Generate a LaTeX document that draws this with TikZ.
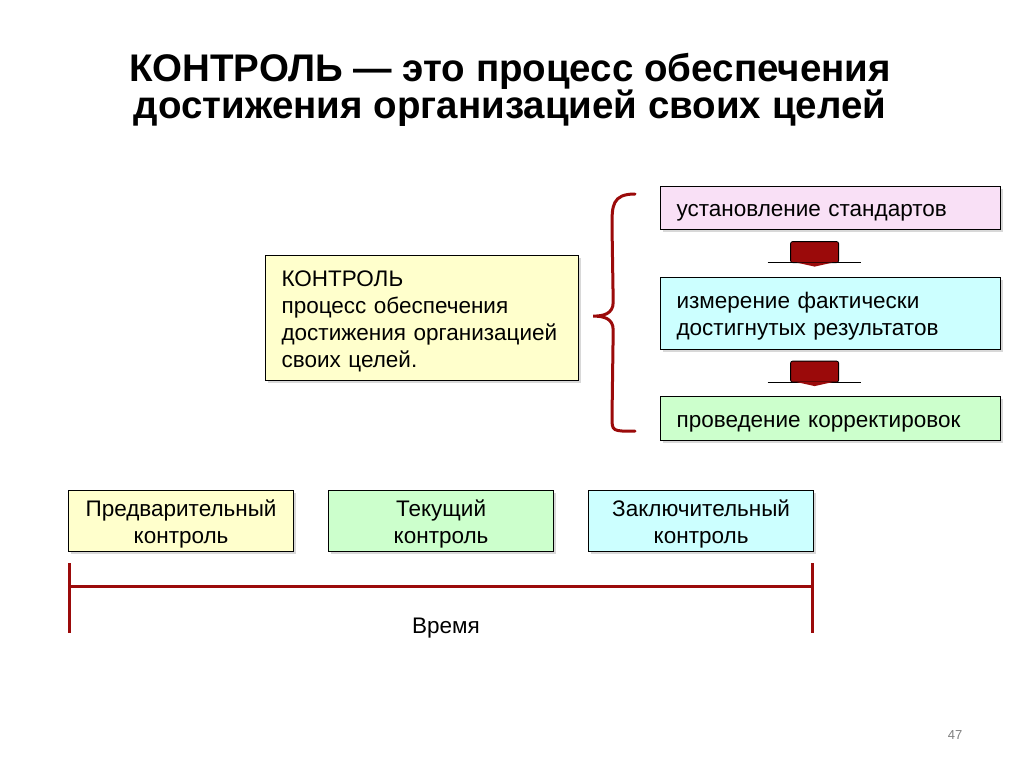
\documentclass[tikz,border=0pt]{standalone}
\usepackage{fontspec}
\setmainfont{Liberation Sans}
\usetikzlibrary{calc,shadows}
\definecolor{ctrlred}{HTML}{9B0A0A}
\definecolor{boxyellow}{HTML}{FFFFCC}
\definecolor{boxpink}{HTML}{F9E0F6}
\definecolor{boxcyan}{HTML}{CCFFFF}
\definecolor{boxgreen}{HTML}{CCFFCC}
\begin{document}
\begin{tikzpicture}[x=1pt,y=-1pt]
\tikzset{
    box/.style={draw=black, line width=1.2pt, inner ysep=0pt, anchor=north west,
        drop shadow={shadow xshift=2pt, shadow yshift=-2pt, opacity=0.3},
        font=\fontsize{22.5}{27}\selectfont, execute at begin node={\rule{0pt}{22pt}}},
    leftbox/.style 2 args={box, fill=#1, align=left, inner xsep=16pt,
        text width=#2, minimum height=44pt},
    timebox/.style={box, fill=#1, align=center, minimum width=225pt,
        minimum height=61pt, text width=219pt, inner xsep=3pt},
    stepper/.style={fill=ctrlred, draw=black, line width=0.8pt, rounded corners=2pt}
}
\useasboundingbox[fill=white] (0,0) rectangle (1024,767);
% title
\node[font=\fontsize{38.5}{37.5}\selectfont\bfseries, align=center] (title) at (510,90)
  {КОНТРОЛЬ — это процесс обеспечения\\достижения организацией своих целей};
% definition
\node[leftbox={boxyellow}{281pt}, minimum height=125pt, inner xsep=16pt] (def) at (265,255)
  {КОНТРОЛЬ\\процесс обеспечения\\достижения организацией\\своих целей.};
% stages
\node[leftbox={boxpink}{308pt}, minimum height=43pt] (std) at (660,186) {установление стандартов};
\node[leftbox={boxcyan}{308pt}, minimum height=72pt] (meas) at (660,277)
  {измерение фактически\\достигнутых результатов};
\node[leftbox={boxgreen}{308pt}, minimum height=44pt] (corr) at (660,396) {проведение корректировок};
\foreach \a/\b in {std/meas, meas/corr}
{
  \coordinate (m) at ($(\a.south)!0.5!(\b.north)$);
  \draw[line width=1.2pt] ($(m)+(-63,9)$) -- ($(m)+(30,9)$);
  \draw[stepper] ($(m)+(-40,-12)$) rectangle ($(m)+(8,9)$);
  \fill[ctrlred] ($(m)+(-34,9)$) -- ($(m)+(2,9)$) -- ($(m)+(-16,13)$) -- cycle;
}
% brace
\draw[ctrlred, line width=3pt, line cap=round]
  ($(std.north west)+(-25,8)$) .. controls ($(std.north west)+(-48,8)$) and ($(std.north west)+(-48,20)$)
  .. ($(std.north west)+(-48,40)$) -- ($(def.east)+(34,-16)$)
  .. controls ($(def.east)+(34,-4)$) and ($(def.east)+(24,-2)$) .. ($(def.east)+(14,-2)$)
  .. controls ($(def.east)+(24,-2)$) and ($(def.east)+(34,0)$) .. ($(def.east)+(34,12)$)
  -- ($(corr.south west)+(-48,-24)$)
  .. controls ($(corr.south west)+(-48,-10)$) and ($(corr.south west)+(-48,-10)$) .. ($(corr.south west)+(-25,-10)$);
% kinds of control
\node[timebox={boxyellow}] (pre) at (68,490) {Предварительный\\контроль};
\node[timebox={boxgreen}] (cur) at (328,490) {Текущий\\контроль};
\node[timebox={boxcyan}] (fin) at (588,490) {Заключительный\\контроль};
% time axis
\coordinate (t0) at (69,586);
\coordinate (t1) at (812,586);
\draw[ctrlred, line width=3pt] (t0) -- (t1);
\draw[ctrlred, line width=3pt] ($(t0)+(0,-23)$) -- ($(t0)+(0,47)$);
\draw[ctrlred, line width=3pt] ($(t1)+(0,-23)$) -- ($(t1)+(0,47)$);
\node[font=\fontsize{22.5}{27}\selectfont] (time) at (446,628) {Время};
\node[font=\fontsize{13}{15}\selectfont, text=gray] (page) at (955,735) {47};
\end{tikzpicture}
\end{document}
